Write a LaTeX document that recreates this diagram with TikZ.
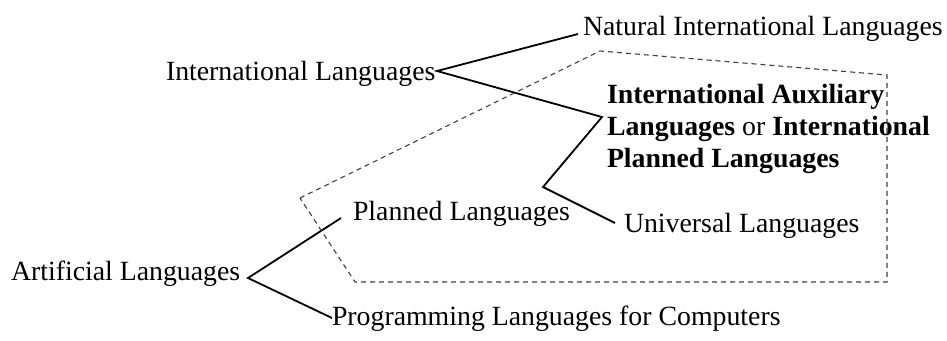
\documentclass[tikz,border=0pt]{standalone}
\usepackage{fontspec}
\setmainfont{Liberation Serif}
\begin{document}
\begin{tikzpicture}[x=1pt,y=-1pt,
  lbl/.style={inner sep=0pt,outer sep=0pt,anchor=base west,font=\fontsize{27.8}{32}\selectfont},
  conn/.style={line width=1.8pt,line join=miter},
  region/.style={line width=1.1pt,dash pattern=on 5pt off 4pt,black!75}]
\useasboundingbox (0,0) rectangle (947,340);
% texts
\node[lbl] (nat) at (583,35) {Natural International Languages};
\node[lbl] (intl) at (166,80) {International Languages};
\node[lbl,anchor=west,align=left] (aux) at (607,129) {\textbf{International Auxiliary}\\\textbf{Languages} or \textbf{International}\\\textbf{Planned Languages}};
\node[lbl] (univ) at (624,232) {Universal Languages};
\node[lbl] (plan) at (353,220) {Planned Languages};
\node[lbl] (art) at (11,280) {Artificial Languages};
\node[lbl] (prog) at (332,325) {Programming Languages for Computers};
% connector points
\coordinate (it) at (437,71);
\coordinate (nt) at (578,34);
\coordinate (z1) at (602,117);
\coordinate (z2) at (543,187);
\coordinate (ut) at (615,223);
\coordinate (at) at (248,278);
\coordinate (pt) at (341,218);
\coordinate (gt) at (332,318);
\draw[conn] (nt) -- (it) -- (z1) -- (z2) -- (ut);
\draw[conn] (pt) -- (at) -- (gt);
% dashed region
\coordinate (d1) at (300,198);
\coordinate (d2) at (600,51);
\coordinate (d3) at (887,75);
\coordinate (d4) at (887,282);
\coordinate (d5) at (355,282);
\draw[region] (d1) -- (d2) -- (d3) -- (d4) -- (d5) -- cycle;
\end{tikzpicture}
\end{document}
